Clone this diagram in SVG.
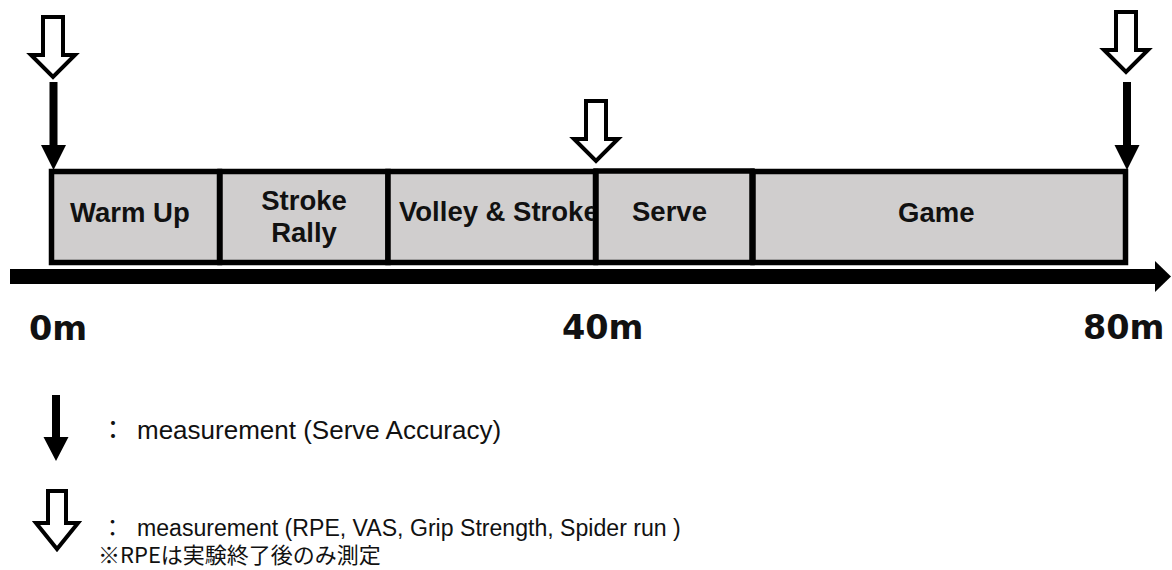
<svg xmlns="http://www.w3.org/2000/svg" width="1172" height="570" viewBox="0 0 1172 570">
<style>
.box{fill:#d0cece;stroke:#000;stroke-width:5.5}
.lbl{font-family:"Liberation Sans",Arial,sans-serif;font-weight:bold;font-size:27.5px;fill:#111}
.ax{font-family:"DejaVu Sans",Verdana,sans-serif;font-weight:bold;font-size:33.5px;fill:#111}
.leg{font-family:"Liberation Sans",Arial,"Noto Sans CJK JP",sans-serif;font-size:23.1px;fill:#111}
.leg1{font-size:26px}
.jp{font-family:"Noto Sans CJK JP",sans-serif;font-size:22px;fill:#111}
.hollow{fill:#fff;stroke:#000;stroke-width:4;stroke-linejoin:miter}
.solid{fill:#000}
</style>
<defs>
<polygon id="hol" class="hollow" points="-10,0 10,0 10,38 22,38 0,60 -22,38 -10,38"/>
<path id="sol" class="solid" d="M-4,0 H4 V63 H12.5 L0,88 L-12.5,63 H-4 Z"/>
</defs>
<g id="axis">
<rect x="10" y="269" width="1146" height="15" fill="#000"/>
<polygon points="1155,261 1171,276.5 1155,292" fill="#000"/>
<text class="ax" x="29" y="340">0m</text>
<text class="ax" x="562" y="339">40m</text>
<text class="ax" x="1083" y="339">80m</text>
</g>
<g id="warmup">
<rect class="box" x="51.5" y="171.5" width="168" height="91"/>
<text class="lbl" x="70" y="222">Warm Up</text>
</g>
<g id="strokerally">
<rect class="box" x="220" y="171.5" width="168" height="91"/>
<text class="lbl" x="304" y="210" text-anchor="middle">Stroke</text>
<text class="lbl" x="304" y="242" text-anchor="middle">Rally</text>
</g>
<g id="volley">
<rect class="box" x="388" y="171.5" width="207.5" height="91"/>
<text class="lbl" x="399" y="221">Volley &amp; Stroke</text>
</g>
<g id="game">
<rect class="box" x="753" y="171.5" width="372.5" height="91"/>
<text class="lbl" x="898" y="222">Game</text>
</g>
<g id="serve">
<rect class="box" x="596" y="171" width="156" height="91.5"/>
<text class="lbl" x="632" y="221">Serve</text>
</g>
<g id="connectors">
<use href="#hol" x="53" y="17"/>
<use href="#sol" x="53.5" y="82"/>
<use href="#hol" x="596" y="101"/>
<use href="#hol" x="1126" y="12"/>
<use href="#sol" x="1127" y="82"/>
</g>
<g id="legend">
<path class="solid" d="M52,395 H60 V437 H68.5 L56,461 L43.5,437 H52 Z"/>
<text class="leg leg1" x="100" y="439">：<tspan x="137">measurement (Serve Accuracy)</tspan></text>
<polygon class="hollow" points="48,491 66,491 66,523 78,523 57,549 36,523 48,523"/>
<text class="leg" x="101" y="536">：<tspan x="137">measurement (RPE, VAS, Grip Strength, Spider run )</tspan></text>
<text class="jp" x="98" y="563">※RPEは実験終了後のみ測定</text>
</g>
</svg>
